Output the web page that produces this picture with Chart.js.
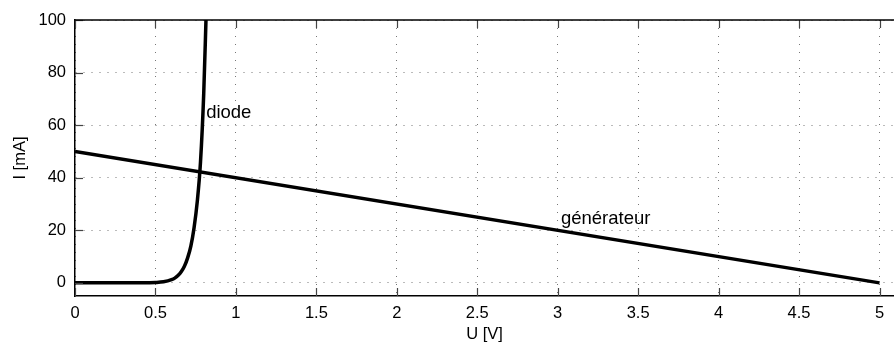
<!DOCTYPE html>
<html><head><meta charset="utf-8">
<script src="https://cdn.jsdelivr.net/npm/chart.js@4"></script>
<style>html,body{margin:0;padding:0;background:#fff}#c{display:block}</style>
</head>
<body>
<canvas id="c" width="894" height="345"></canvas>
<script>
const xTicks = [0, 0.5, 1, 1.5, 2, 2.5, 3, 3.5, 4, 4.5, 5];
const yTicks = [0, 20, 40, 60, 80, 100];
const genU = [0, 5];
const genI = [50, 0];
const diodeU = [0, 0.1, 0.2, 0.3, 0.4, 0.5, 0.55, 0.6, 0.62, 0.64, 0.66, 0.68, 0.7, 0.72, 0.74, 0.76, 0.78, 0.8, 0.814];
const diodeI = [0, 0, 0, 0, 0.02, 0.15, 0.4, 1.2, 1.8, 2.8, 4.2, 6.3, 9.5, 14, 21, 31, 46, 72, 100];
const labels = [
  {text: 'diode', u: 0.815, i: 64.6},
  {text: 'générateur', u: 3.02, i: 24.3}
];

const FONT = "'Liberation Sans', Arial, Helvetica, sans-serif";
const tickFont = {family: FONT, size: 16.5};

const marks = {
  id: 'marks',
  afterDraw(chart) {
    const {ctx, chartArea: a, scales: {x, y}} = chart;
    ctx.save();
    ctx.strokeStyle = '#444';
    ctx.lineWidth = 1.2;
    const L = 8;
    xTicks.forEach(v => {
      const px = Math.round(x.getPixelForValue(v)) + 0.5;
      ctx.beginPath();
      ctx.moveTo(px, a.bottom); ctx.lineTo(px, a.bottom - L);
      ctx.moveTo(px, a.top); ctx.lineTo(px, a.top + L);
      ctx.stroke();
    });
    yTicks.forEach(v => {
      const py = Math.round(y.getPixelForValue(v)) + 0.5;
      ctx.beginPath();
      ctx.moveTo(a.left, py); ctx.lineTo(a.left + L, py);
      ctx.stroke();
    });
    ctx.strokeStyle = '#000';
    ctx.lineWidth = 1.5;
    ctx.beginPath();
    ctx.moveTo(a.left, a.top); ctx.lineTo(a.right, a.top);
    ctx.stroke();
    ctx.fillStyle = '#000';
    ctx.font = "18.5px " + FONT;
    ctx.textAlign = 'left';
    ctx.textBaseline = 'middle';
    labels.forEach(l => {
      ctx.fillText(l.text, x.getPixelForValue(l.u), y.getPixelForValue(l.i));
    });
    ctx.restore();
  }
};

new Chart(document.getElementById('c'), {
  type: 'line',
  data: {
    datasets: [
      {data: diodeU.map((u, k) => ({x: u, y: diodeI[k]})), borderColor: '#000', borderWidth: 3.5, pointRadius: 0, cubicInterpolationMode: 'monotone'},
      {data: genU.map((u, k) => ({x: u, y: genI[k]})), borderColor: '#000', borderWidth: 3.5, pointRadius: 0}
    ]
  },
  options: {
    responsive: false,
    animation: false,
    devicePixelRatio: 1,
    layout: {padding: {top: 20, right: 0, left: 0, bottom: 0}},
    plugins: {legend: {display: false}, tooltip: {enabled: false}},
    scales: {
      x: {
        type: 'linear', min: 0, max: 5.09,
        afterBuildTicks: s => { s.ticks = xTicks.map(v => ({value: v})); },
        afterFit: s => { s.height = 49; },
        ticks: {font: tickFont, color: '#000', padding: 8, maxRotation: 0, callback: v => String(v)},
        grid: {color: '#777', lineWidth: 1, drawTicks: false},
        border: {color: '#000', width: 1.5, dash: [1, 7]},
        title: {display: true, text: 'U [V]', font: tickFont, color: '#000', padding: {top: 0, bottom: 1}}
      },
      y: {
        type: 'linear', min: -5, max: 100,
        afterBuildTicks: s => { s.ticks = yTicks.map(v => ({value: v})); },
        afterFit: s => { s.width = 75; },
        ticks: {font: tickFont, color: '#000', padding: 9, callback: v => String(v)},
        grid: {color: '#777', lineWidth: 1, drawTicks: false},
        border: {color: '#000', width: 1.5, dash: [1, 7]},
        title: {display: true, text: 'I [mA]', font: tickFont, color: '#000', padding: {top: 11, bottom: 0}}
      }
    }
  },
  plugins: [marks]
});
</script>
</body></html>
